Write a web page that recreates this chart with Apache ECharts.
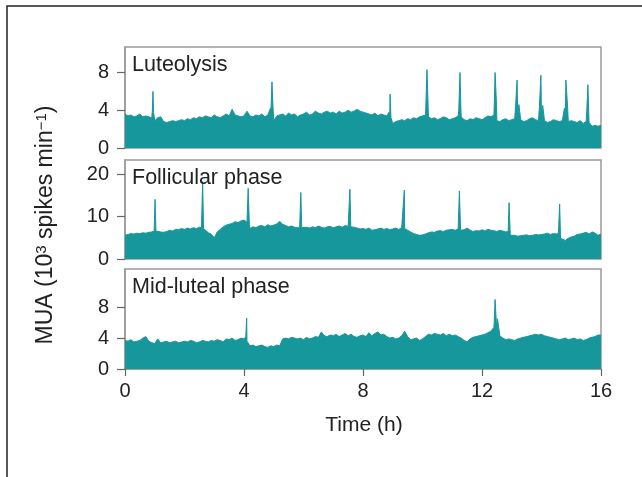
<!DOCTYPE html>
<html>
<head>
<meta charset="utf-8">
<script src="https://cdn.jsdelivr.net/npm/echarts@6/dist/echarts.min.js"></script>
<style>
html, body { margin: 0; background: #fff; }
#main { width: 642px; height: 477px; }
</style>
</head>
<body>
<div id="main"></div>
<script>
// panel titles and axis ticks
var panelNames = ['Luteolysis', 'Follicular phase', 'Mid-luteal phase'];
var yTicks = [[0, 4, 8], [0, 10, 20], [0, 4, 8]];
var yMax = [10.7, 23.4, 12.95];
var xTicks = [0, 4, 8, 12, 16];

var sampleStep = 0.1;
var lutBase = [
  3.6,3.4,3.5,3.3,3.4,3.6,3.3,3.4,3.3,3.2,
  2.9,3.2,3.3,2.8,2.7,2.8,2.9,2.8,2.9,3.0,
  2.9,3.1,3.0,3.2,3.1,3.3,3.2,3.4,3.3,3.2,
  3.5,3.3,3.2,3.4,3.6,3.4,4.1,3.5,3.4,3.3,
  3.4,3.9,3.4,3.3,3.5,3.4,3.6,3.3,3.5,3.4,
  2.9,3.4,3.5,3.6,3.4,3.7,3.5,3.6,3.3,3.5,
  3.6,3.8,3.5,3.6,3.9,3.7,3.6,3.8,3.9,3.7,
  3.8,3.6,3.9,3.7,3.8,4.0,3.8,3.9,4.1,3.9,
  3.8,3.7,3.6,3.5,3.7,3.4,3.6,3.5,3.4,3.5,
  2.6,2.8,2.9,3.0,2.9,3.1,3.0,3.2,3.1,3.3,
  3.4,3.5,3.3,3.1,3.2,3.0,3.1,3.3,3.2,3.0,
  3.1,3.2,3.4,3.3,3.0,2.9,3.1,3.0,3.2,3.1,
  3.0,3.2,3.4,3.3,3.5,2.9,2.8,3.0,3.1,2.9,
  3.0,3.1,3.3,3.0,2.8,2.9,3.1,3.2,3.0,2.9,
  3.3,2.9,2.7,2.8,3.0,2.9,2.8,2.9,3.0,2.8,
  2.9,2.8,2.7,2.9,2.6,2.8,2.7,2.3,2.4,2.3,
  2.4
];
var folBase = [
  5.6,5.8,6.0,5.9,6.1,6.0,6.2,6.1,6.3,6.4,
  6.8,6.2,6.4,6.3,6.5,6.8,6.6,7.0,6.9,7.2,
  7.0,7.3,7.1,7.4,7.2,7.5,7.6,6.8,6.2,5.9,
  5.0,6.4,7.0,7.6,8.0,8.2,8.4,8.8,8.6,9.0,
  9.2,8.7,7.2,7.6,7.4,7.8,7.9,7.6,8.1,7.8,
  8.0,8.3,8.9,8.2,7.9,7.6,7.8,7.5,7.4,7.6,
  7.2,7.5,7.3,7.6,7.4,7.8,7.5,7.3,7.6,7.7,
  7.4,7.6,7.8,7.5,7.9,7.7,7.8,7.5,7.3,7.1,
  7.2,7.0,7.3,6.8,6.9,7.1,7.3,7.0,7.2,6.9,
  7.1,7.3,7.0,7.4,7.2,6.8,6.4,6.0,5.8,5.6,
  5.7,5.9,6.2,6.4,6.3,6.6,6.7,6.5,6.8,6.9,
  7.0,6.8,7.1,6.6,6.9,7.3,6.8,6.5,6.7,6.6,
  6.9,6.6,7.0,6.8,6.7,6.5,6.8,6.6,6.4,6.5,
  5.5,5.6,5.4,5.5,5.6,5.7,5.5,5.6,5.8,5.7,
  5.8,5.9,6.1,5.8,6.0,5.9,6.1,4.8,4.4,4.9,
  5.2,5.4,5.8,5.9,6.1,6.3,5.9,6.4,6.1,5.6,
  5.9
];
var midBase = [
  3.7,3.6,3.8,3.5,3.6,3.7,4.0,4.2,3.6,3.4,
  3.3,3.9,3.4,3.5,3.6,3.4,3.5,3.6,3.4,3.5,
  3.6,3.5,3.7,3.6,3.4,3.5,3.7,3.6,3.5,3.7,
  3.6,3.8,3.7,3.5,3.9,3.8,4.0,3.7,3.8,4.0,
  3.9,3.6,3.0,3.1,2.9,3.0,3.1,2.9,2.8,3.0,
  2.9,3.1,3.0,3.9,4.0,3.9,4.1,4.0,3.9,4.0,
  3.8,4.1,3.9,4.0,4.2,4.1,4.8,4.3,4.2,4.4,
  4.3,4.5,4.2,4.4,4.6,4.3,4.5,4.2,4.1,4.3,
  4.4,4.2,4.7,4.3,4.6,4.8,4.4,4.5,4.2,4.0,
  4.1,3.9,4.0,4.3,4.9,4.2,3.8,3.9,4.0,3.7,
  3.9,4.2,4.5,4.4,4.6,4.5,4.4,4.6,4.3,4.5,
  4.3,4.4,4.2,4.0,3.7,3.5,3.9,4.1,4.2,4.3,
  4.4,4.5,4.7,4.9,5.4,4.8,4.3,4.0,3.8,3.9,
  3.8,3.7,3.9,4.0,4.1,4.2,4.3,4.4,4.5,4.4,
  4.5,4.3,4.2,4.1,4.0,3.9,3.8,3.9,4.0,3.8,
  3.9,4.0,3.8,3.9,3.7,3.8,4.0,4.1,4.2,4.4,
  4.4
];

// pulses: [time (h), value]
var lutSpikes = [
  [0.92,4.0],[0.94,6.0],[0.96,3.8],
  [4.89,4.2],[4.94,7.0],[4.98,4.0],
  [8.88,3.8],[8.91,5.7],[8.94,3.2],
  [10.11,4.2],[10.15,8.3],[10.19,4.3],
  [11.22,4.0],[11.26,8.0],[11.29,4.2],
  [12.41,4.3],[12.44,8.0],[12.49,4.5],
  [13.13,4.5],[13.18,7.2],[13.24,4.6],
  [13.93,4.4],[13.98,7.7],[14.04,4.5],
  [14.77,4.2],[14.82,7.2],[14.88,4.2],
  [15.52,3.8],[15.56,6.7],[15.59,3.5]
];
var folSpikes = [
  [0.98,6.6],[1.01,14.1],[1.04,6.6],
  [2.57,7.4],[2.61,18.3],[2.64,7.2],
  [4.11,8.8],[4.14,16.7],[4.18,8.2],
  [5.87,7.4],[5.91,15.7],[5.94,7.4],
  [7.53,7.8],[7.56,16.5],[7.59,7.6],
  [9.36,7.2],[9.39,16.3],[9.43,7.0],
  [11.21,6.9],[11.24,16.1],[11.28,6.8],
  [12.88,6.5],[12.91,13.3],[12.95,5.6],
  [14.57,6.1],[14.61,13.0],[14.64,4.9]
];
var midSpikes = [
  [4.06,4.2],[4.09,6.6],[4.13,3.8],
  [12.41,6.0],[12.44,9.0],[12.47,9.2],[12.52,6.5]
];

var teal = '#16979c';
var font = 'Liberation Sans, Arial, sans-serif';

function merge(base, spikes) {
  var pts = base.map(function (v, i) { return [+(i * sampleStep).toFixed(2), v]; });
  return pts.concat(spikes).sort(function (a, b) { return a[0] - b[0]; });
}

var seriesData = [merge(lutBase, lutSpikes), merge(folBase, folSpikes), merge(midBase, midSpikes)];
var gridTops = [47, 160, 269];
var gridHeights = [101, 99, 100];

var grids = [], xAxes = [], yAxes = [], series = [], texts = [];
for (var i = 0; i < 3; i++) {
  grids.push({
    left: 125, top: gridTops[i], width: 476, height: gridHeights[i],
    show: true, borderColor: '#9a9a9a', borderWidth: 1.5, backgroundColor: '#fff'
  });
  var last = i === 2;
  xAxes.push({
    type: 'value', gridIndex: i, min: 0, max: 16, interval: 4,
    axisLine: { show: last, lineStyle: { color: '#9a9a9a', width: 1.5 } },
    axisTick: { show: last, length: 7, lineStyle: { color: '#666', width: 1.2 } },
    axisLabel: { show: last, color: '#222', fontSize: 20, fontFamily: font, margin: 12,
      customValues: xTicks },
    splitLine: { show: false }
  });
  yAxes.push({
    type: 'value', gridIndex: i, min: 0, max: yMax[i],
    axisLine: { show: true, lineStyle: { color: '#9a9a9a', width: 1.5 } },
    axisTick: { show: true, length: 8, customValues: yTicks[i], lineStyle: { color: '#666', width: 1.2 } },
    axisLabel: { color: '#222', fontSize: 20, fontFamily: font, margin: 16, customValues: yTicks[i] },
    splitLine: { show: false }
  });
  series.push({
    type: 'line', xAxisIndex: i, yAxisIndex: i, data: seriesData[i],
    showSymbol: false, sampling: 'none',
    lineStyle: { color: teal, width: 1 },
    areaStyle: { color: teal, opacity: 1 },
    z: 2
  });
  texts.push({
    type: 'text', left: 132, top: gridTops[i] + 7, z: 10,
    style: { text: panelNames[i], fill: '#222', fontSize: 21.5, fontFamily: font }
  });
}

texts.push({
  type: 'text', x: 46, y: 225, rotation: Math.PI / 2, z: 10,
  style: {
    text: 'MUA (10{sup|3} spikes min{sup|−1})',
    fill: '#222', fontSize: 23, fontFamily: font, align: 'center', verticalAlign: 'middle',
    rich: { sup: { fontSize: 15, fontFamily: font, fill: '#222', verticalAlign: 'top' } }
  }
});
texts.push({
  type: 'text', x: 364, y: 425, z: 10,
  style: { text: 'Time (h)', fill: '#222', fontSize: 21, fontFamily: font, align: 'center', verticalAlign: 'middle' }
});
// outer figure frame (top and left edges)
texts.push({
  type: 'polyline', z: 10, shape: { points: [[7, 477], [7, 6], [642, 6]] },
  style: { stroke: '#222', lineWidth: 1.5, fill: null }
});

var chart = echarts.init(document.getElementById('main'));
chart.setOption({
  animation: false,
  backgroundColor: '#fff',
  grid: grids,
  xAxis: xAxes,
  yAxis: yAxes,
  series: series,
  graphic: texts
});
</script>
</body>
</html>
